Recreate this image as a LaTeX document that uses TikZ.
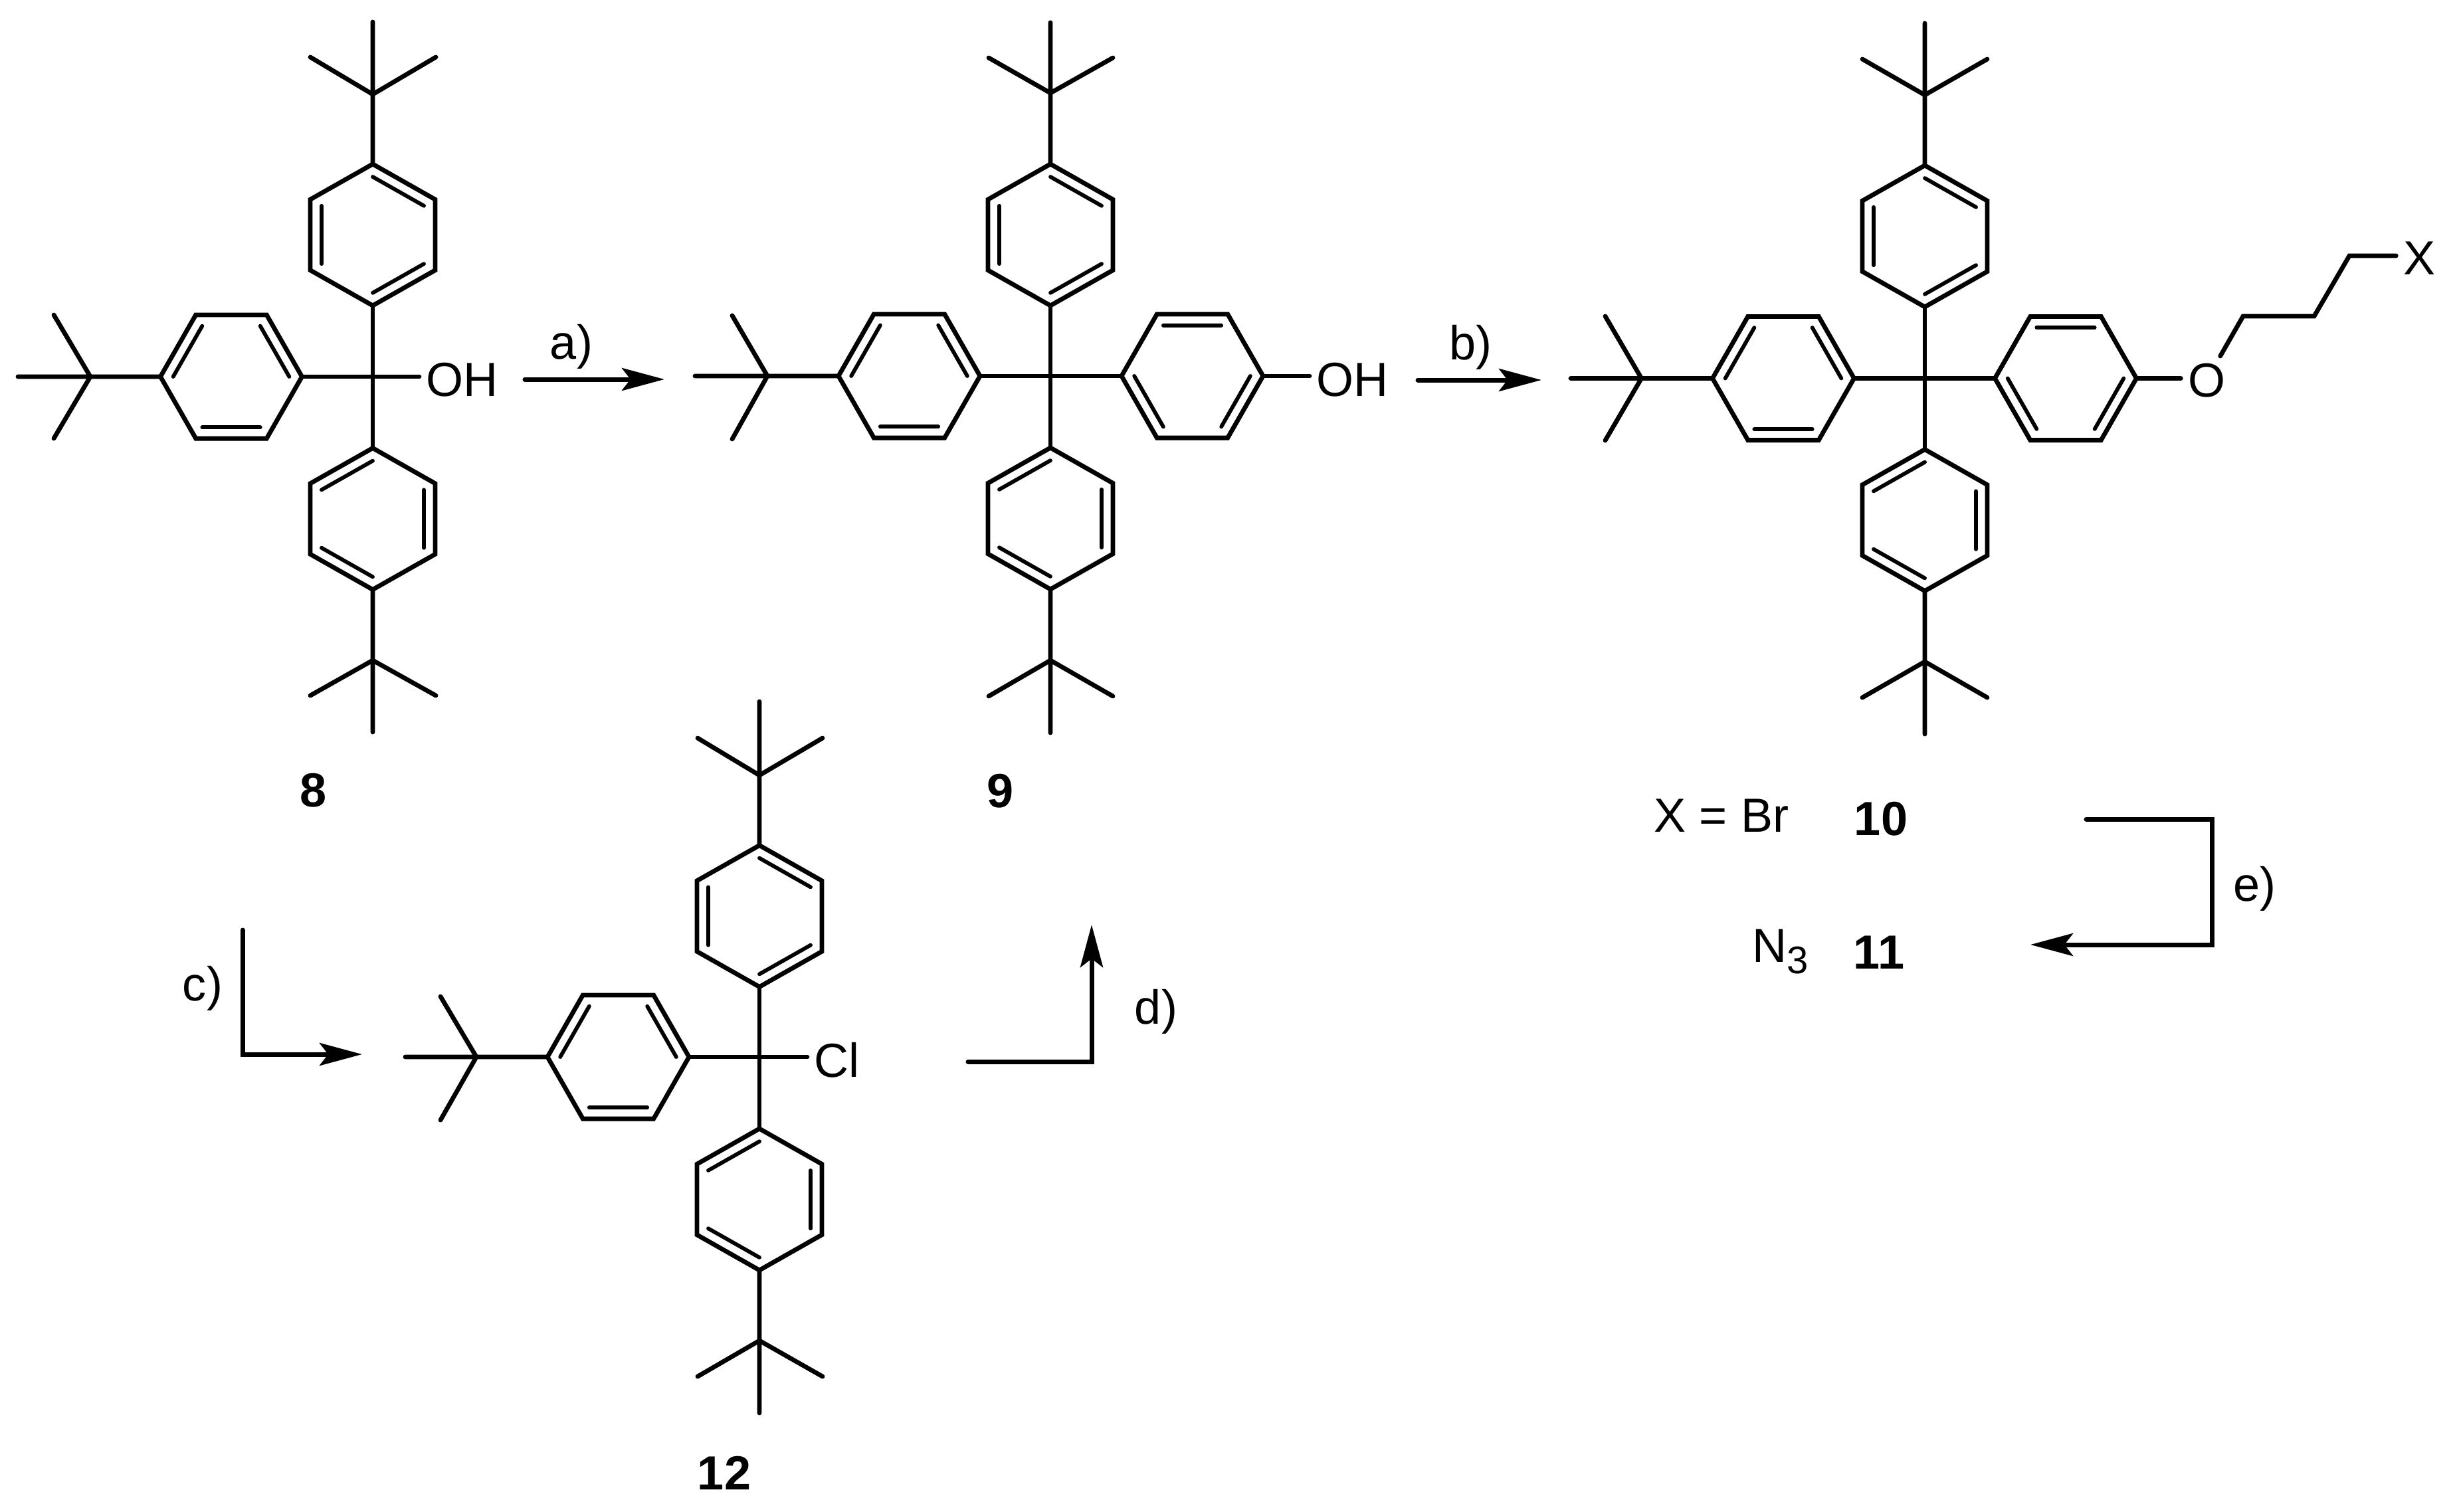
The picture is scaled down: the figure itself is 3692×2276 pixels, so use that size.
\documentclass[tikz,border=0pt]{standalone}
\usepackage{fontspec}
\setmainfont{Liberation Sans}
\usepackage{tikz}
\usetikzlibrary{calc}
\usetikzlibrary{arrows.meta}
\tikzstyle{bond} = [line width=0.68mm, line cap=round, line join=miter]
\tikzstyle{dbl} = [line width=0.58mm, line cap=round]
\tikzstyle{rxn} = [line width=0.7mm, line cap=round, -{Stealth[length=6.4mm, width=3.4mm, inset=1.3mm]}]
\tikzstyle{atom} = [inner sep=1mm, font=\fontsize{20.5}{24}\selectfont]
\tikzstyle{label} = [inner sep=0, font=\fontsize{20.5}{24}\selectfont]
\tikzstyle{compound} = [inner sep=0, font=\fontsize{20.5}{24}\selectfont\bfseries, anchor=base]
% name, cx, cy, rx, ry, start angle, double bonds
\newcommand{\phring}[7]{
  \coordinate (#1c) at (#2,#3);
  \foreach \k in {0,...,5}
    \coordinate (#1\k) at ({#2+#4*cos(#6+60*\k)},{#3+#5*sin(#6+60*\k)});
  \draw [bond] (#10) -- (#11) -- (#12) -- (#13) -- (#14) -- (#15) -- cycle;
  \foreach \i/\j in {#7}
    \draw [dbl] ($(#1\i)!0.18!(#1c)$) -- ($(#1\j)!0.18!(#1c)$);
}
\newcommand{\ringv}[4]{\phring{#1}{#2}{#3}{108.5}{106.5}{-90}{#4}}
\newcommand{\ringh}[4]{\phring{#1}{#2}{#3}{106.5}{107.5}{0}{#4}}
% name, C, three methyl ends, ring vertex
\newcommand{\tbu}[6]{
  \coordinate (#1) at #2;
  \coordinate (#1a) at #3;
  \coordinate (#1b) at #4;
  \coordinate (#1d) at #5;
  \draw [bond] (#1a) -- (#1) (#1b) -- (#1) (#1d) -- (#1) (#1) -- (#6);
}
\begin{document}
\begin{tikzpicture}[x=0.1mm, y=-0.1mm]
\useasboundingbox (0,0) rectangle (3692,2276);

% compound 8
\coordinate (c8) at (561,567);
\ringv{t8}{561}{353.5}{0/1,2/3,4/5}
\ringv{b8}{561}{781}{5/0,1/2,3/4}
\ringh{l8}{348}{567}{1/2,3/4,5/0}
\tbu{tt8}{(561,142)}{(561,33)}{(467,86)}{(656,86)}{t80}
\tbu{tb8}{(561,994)}{(561,1102)}{(467,1047)}{(656,1047)}{b83}
\tbu{tl8}{(136,567)}{(27,567)}{(81,474)}{(81,660)}{l83}
\node [atom, anchor=base west] (oh8) at (631,596) {OH};
\draw [bond] (t83) -- (c8) (b80) -- (c8) (l80) -- (c8) (c8) -- (oh8.west |- c8);
\node [compound] (n8) at (472,1214) {8};

% compound 9
\coordinate (c9) at (1581,566);
\ringv{t9}{1581}{353.5}{0/1,2/3,4/5}
\ringv{b9}{1581}{780.5}{5/0,1/2,3/4}
\ringh{l9}{1368.5}{566}{1/2,3/4,5/0}
\ringh{r9}{1794.5}{566}{0/1,2/3,4/5}
\tbu{tt9}{(1581,140)}{(1581,34)}{(1488,87)}{(1675,87)}{t90}
\tbu{tb9}{(1581,994)}{(1581,1103)}{(1488,1048)}{(1675,1048)}{b93}
\tbu{tl9}{(1155,566)}{(1046,566)}{(1102,475)}{(1102,661)}{l93}
\node [atom, anchor=base west] (oh9) at (1971,596) {OH};
\draw [bond] (t93) -- (c9) (b90) -- (c9) (l90) -- (c9) (c9) -- (r93) (r90) -- (oh9.west |- c9);
\node [compound] (n9) at (1506,1215) {9};

% compounds 10 and 11
\coordinate (c10) at (2897,569.5);
\ringv{t10}{2897}{355.5}{0/1,2/3,4/5}
\ringv{b10}{2897}{783}{5/0,1/2,3/4}
\ringh{l10}{2684}{569.5}{1/2,3/4,5/0}
\ringh{r10}{3109}{569.5}{0/1,2/3,4/5}
\tbu{tt10}{(2897,143)}{(2897,35)}{(2803,89)}{(2991,89)}{t100}
\tbu{tb10}{(2897,996)}{(2897,1105)}{(2803,1050)}{(2991,1050)}{b103}
\tbu{tl10}{(2470.5,569.5)}{(2364,569.5)}{(2416,476)}{(2416,663)}{l103}
\node [atom, anchor=base] (o10) at (3321,597) {O};
\node [atom, anchor=base] (x10) at (3641,414) {X};
\coordinate (ch1) at (3376,476);
\coordinate (ch2) at (3483,476);
\coordinate (ch3) at (3536,385);
\draw [bond] (t103) -- (c10) (b100) -- (c10) (l100) -- (c10) (c10) -- (r103) (r100) -- (o10.west |- c10);
\draw [bond] (o10) -- (ch1) -- (ch2) -- (ch3) -- (x10.west |- ch3);
\node [label, anchor=base] (xbr) at (2591,1252) {X = Br};
\node [compound] (n10) at (2831,1257) {10};
\node [label, anchor=base west] (n3) at (2637,1448) {N\raisebox{-1.7mm}{\fontsize{16.5}{16.5}\selectfont 3}};
\node [compound] (n11) at (2828,1458) {11};

% compound 12
\coordinate (c12) at (1143,1591);
\ringv{t12}{1143}{1379}{0/1,2/3,4/5}
\ringv{b12}{1143}{1805.5}{5/0,1/2,3/4}
\ringh{l12}{930.5}{1591}{1/2,3/4,5/0}
\tbu{tt12}{(1143,1167)}{(1143,1056)}{(1050,1111)}{(1238,1111)}{t120}
\tbu{tb12}{(1143,2018)}{(1143,2127)}{(1050,2072)}{(1238,2072)}{b123}
\tbu{tl12}{(717,1591)}{(610,1591)}{(663,1500)}{(663,1686)}{l123}
\node [atom, anchor=base west] (cl12) at (1215,1621) {Cl};
\draw [bond] (t123) -- (c12) (b120) -- (c12) (l120) -- (c12) (c12) -- (cl12.west |- c12);
\node [compound] (n12) at (1090,2242) {12};

% reaction arrows
\coordinate (a1) at (790,571);
\coordinate (a2) at (1000,571);
\draw [rxn] (a1) -- (a2);
\node [label, anchor=base] (la) at (860,540) {a)};
\coordinate (b1) at (2134,572);
\coordinate (b2) at (2320,572);
\draw [rxn] (b1) -- (b2);
\node [label, anchor=base] (lb) at (2213,541) {b)};
\coordinate (c1) at (365,1400);
\coordinate (c2) at (365,1587);
\coordinate (c3) at (545,1587);
\draw [rxn] (c1) -- (c2) -- (c3);
\node [label, anchor=base] (lc) at (305,1506) {c)};
\coordinate (d1) at (1457,1598);
\coordinate (d2) at (1643,1598);
\coordinate (d3) at (1643,1392);
\draw [rxn] (d1) -- (d2) -- (d3);
\node [label, anchor=base] (ld) at (1740,1541) {d)};
\coordinate (e1) at (3140,1233);
\coordinate (e2) at (3329.5,1233);
\coordinate (e3) at (3329.5,1422);
\coordinate (e4) at (3056,1422);
\draw [rxn] (e1) -- (e2) -- (e3) -- (e4);
\node [label, anchor=base] (le) at (3393,1356) {e)};
\end{tikzpicture}
\end{document}
